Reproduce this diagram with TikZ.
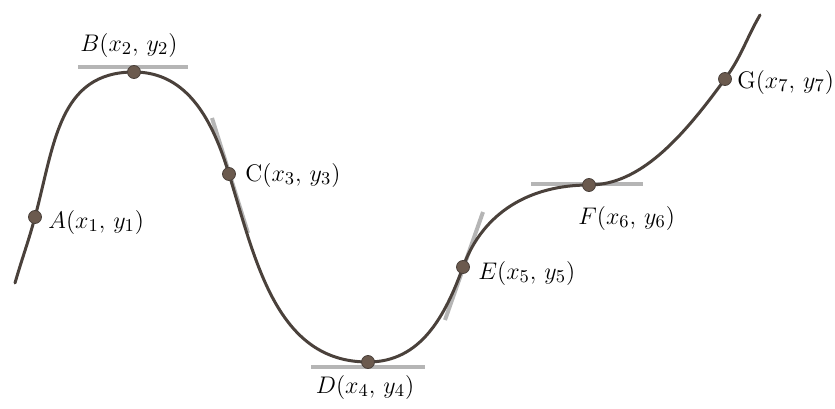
\documentclass[tikz,border=0pt]{standalone}
\usepackage{tikz}
\usetikzlibrary{calc}
\usepackage{amsmath}
\definecolor{curveBrown}{HTML}{4A413B}
\definecolor{dotBrown}{HTML}{6B5A4E}
\definecolor{tanGray}{HTML}{B5B5B5}
\tikzset{
  curveLine/.style={draw=curveBrown, line width=1.5pt, line cap=round},
  tanLine/.style={draw=tanGray, line width=2pt},
  ptDot/.style={circle, fill=dotBrown, draw=curveBrown, line width=0.4pt,
                inner sep=0pt, minimum size=6.5pt},
  lbl/.style={inner sep=0pt, font=\fontsize{12.3}{15}\selectfont},
}

\begin{document}
\begin{tikzpicture}[x=0.5pt, y=0.5pt]
    \useasboundingbox (0,0) rectangle (835,408);
    % points on the curve
    \coordinate (S) at (15,125);
    \coordinate (A) at (35,191);
    \coordinate (B) at (134,336);
    \coordinate (C) at (229,234);
    \coordinate (D) at (368,46);
    \coordinate (E) at (463,141);
    \coordinate (F) at (589,223);
    \coordinate (G) at (725,329);
    \coordinate (T) at (760,393);
    % tangents
    \draw[tanLine] (78,341) -- (188,341);
    \draw[tanLine] ($(C)+(-17,56)$) -- ($(C)+(19,-59)$);
    \draw[tanLine] (311,41) -- (425,41);
    \draw[tanLine] ($(E)+(20,55)$) -- ($(E)+(-18,-53)$);
    \draw[tanLine] (531,224) -- (643,224);
    % the curve
    \draw[curveLine] (S) to[out=74, in=255] (A)
      to[out=75, in=180, looseness=1.1] (B)
      to[out=0, in=107] (C) to[out=-73, in=180] (D)
      to[out=0, in=250] (E) to[out=70, in=180] (F)
      to[out=0, in=234, out looseness=0.75, in looseness=1.1] (G)
      to[out=54, in=240] (T);
    % dots and labels
    \foreach \p in {A,B,C,D,E,F,G}
      \node[ptDot] (dot\p) at (\p) {};
    \node[lbl, anchor=west] (labA) at (48,186) {$A(x_1,\,y_1)$};
    \node[lbl] (labB) at (129,363) {$B(x_2,\,y_2)$};
    \node[lbl, anchor=west] (labC) at (245,233) {$\mathrm{C}(x_3,\,y_3)$};
    \node[lbl] (labD) at (365,21) {$D(x_4,\,y_4)$};
    \node[lbl, anchor=west] (labE) at (478,135) {$E(x_5,\,y_5)$};
    \node[lbl, anchor=west] (labF) at (578,190) {$F(x_6,\,y_6)$};
    \node[lbl, anchor=west] (labG) at (737,326) {$\mathrm{G}(x_7,\,y_7)$};
  \end{tikzpicture}
\end{document}
